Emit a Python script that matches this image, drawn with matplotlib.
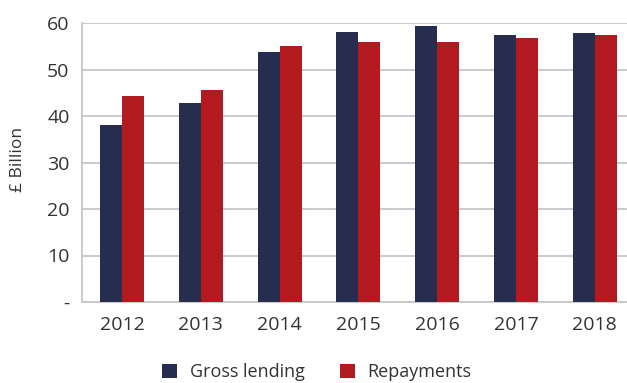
import matplotlib
matplotlib.use('Agg')
import matplotlib.pyplot as plt
import numpy as np

years = ['2012', '2013', '2014', '2015', '2016', '2017', '2018']
gross_lending = [38.0, 42.9, 53.7, 58.0, 59.3, 57.4, 57.8]
repayments = [44.2, 45.5, 55.0, 55.9, 55.9, 56.7, 57.4]
y_ticks = [0, 10, 20, 30, 40, 50, 60]
y_tick_labels = ['-', '10', '20', '30', '40', '50', '60']

navy = '#272d4f'
red = '#b31a20'
grid_grey = '#c6c6c6'
text_col = '#333333'

plt.rcParams['font.family'] = ['Open Sans', 'DejaVu Sans']

fig = plt.figure(figsize=(6.27, 3.83), dpi=100)
ax = fig.add_axes([82 / 627, 1 - 302 / 383, 545 / 627, 279 / 383])

x = np.arange(len(years))
w = 0.279
ax.bar(x - w / 2, gross_lending, width=w, color=navy, label='Gross lending', zorder=3)
ax.bar(x + w / 2, repayments, width=w, color=red, label='Repayments', zorder=3)

ax.set_xlim(-0.507, 6.41)
ax.set_ylim(0, 60)
ax.set_yticks(y_ticks)
ax.set_yticklabels(y_tick_labels)
ax.set_xticks(x)
ax.set_xticklabels(years)
ax.yaxis.grid(True, color=grid_grey, linewidth=1.3, zorder=0)
ax.tick_params(axis='both', length=0, labelsize=14, colors=text_col)
ax.tick_params(axis='y', pad=9)
ax.tick_params(axis='x', pad=10)
for s in ['top', 'right']:
    ax.spines[s].set_visible(False)
for s in ['left', 'bottom']:
    ax.spines[s].set_color(grid_grey)
    ax.spines[s].set_linewidth(1.3)

fig.text(18 / 627, 1 - 160 / 383, '£ Billion', rotation=90, ha='center', va='center',
         fontsize=12.5, color=text_col)

fig.legend(loc='center', bbox_to_anchor=(317 / 627, 1 - 372 / 383), ncol=2, frameon=False,
           fontsize=13, handlelength=0.83, handleheight=0.83, handletextpad=0.67,
           columnspacing=2.0, labelcolor=text_col, borderpad=0.1)

fig.savefig('out.png', dpi=100)
